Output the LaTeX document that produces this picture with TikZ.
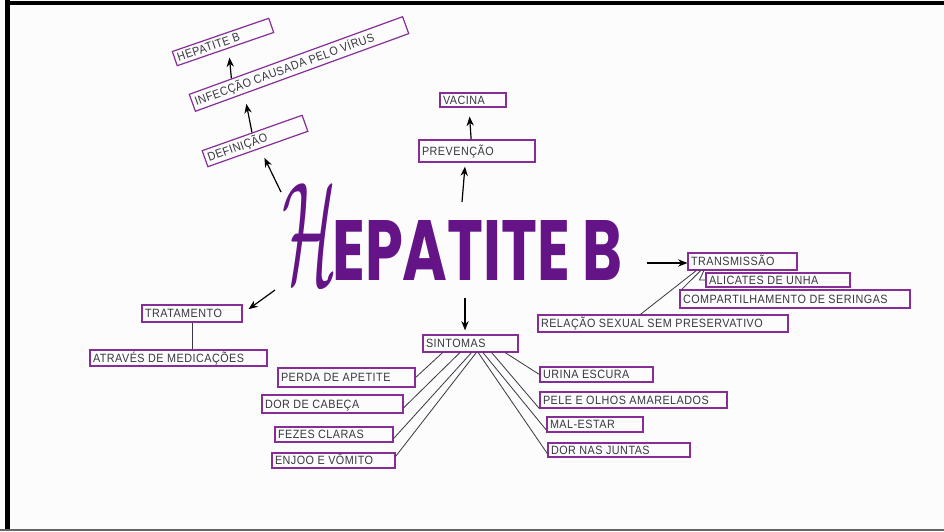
\documentclass[tikz,border=0pt]{standalone}
\usepackage{fontspec}
\usepackage{graphicx}
\usetikzlibrary{calc,arrows.meta}
\setmainfont{Liberation Sans}
\newfontfamily\titlefont{Poppins}
\newfontfamily\handfont[LetterSpace=4,FakeStretch=0.9]{Liberation Sans}
\definecolor{boxpurple}{RGB}{135,45,150}
\definecolor{titlepurple}{RGB}{100,20,135}
\definecolor{ink}{RGB}{55,55,65}
\definecolor{paper}{RGB}{252,252,252}
\newdimen\labelwd

\begin{document}
\begin{tikzpicture}[x=0.75pt,y=-0.75pt,
  bx/.style 2 args={draw=boxpurple, line width=0.9pt, inner ysep=0pt, inner xsep=2.25pt,
    text=ink, font=\handfont\fontsize{9}{10}\selectfont,
    text height=6.6pt, text depth=0.3pt,
    minimum width={#1*0.75pt}, minimum height={#2*0.75pt},
    execute at begin node={\pgfmathsetlength{\labelwd}{(#1-6)*0.75pt}\hbox to \labelwd\bgroup},
    execute at end node={\hfil\egroup}},
  arr/.style={-{Stealth[length=7pt,width=5.5pt]}, line width=0.9pt, black},
  link/.style={line width=0.6pt, ink},
]
% paper and frame
\fill[paper] (0,0) rectangle (944,531);
\useasboundingbox (0,0) rectangle (944,531);
\fill[black] (5,0) rectangle (10,531);
\fill[black] (5,1) rectangle (944,5);
\fill[black!60] (0,529) rectangle (944,531);

% central title
\node[anchor=south west, inner sep=0pt, text=titlepurple] (titleH) at (282,283)
  {\resizebox{41pt}{74pt}{$\mathcal{H}$}};
\node[anchor=south west, inner sep=0pt, text=titlepurple] (title) at (332,281)
  {\resizebox{218pt}{45pt}{\titlefont\bfseries EPATITE B}};

% definition branch (tilted)
\node[bx={106}{17}, rotate=19.5] (defin) at (255,141) {DEFINIÇÃO};
\node[bx={227}{18}, rotate=20] (infec) at (299,64) {INFECÇÃO CAUSADA PELO VÍRUS};
\node[bx={102}{15}, rotate=19] (hepsm) at (223,42) {HEPATITE B};

% prevention branch
\node[bx={66}{14}] (vacina) at (473,100) {VACINA};
\node[bx={116}{22}] (prev) at (477,151) {PREVENÇÃO};

% transmission branch
\node[bx={109}{17}] (transm) at (742.5,261.5) {TRANSMISSÃO};
\node[bx={144}{14}] (alic) at (778,280) {ALICATES DE UNHA};
\node[bx={230}{18}] (compart) at (795,299) {COMPARTILHAMENTO DE SERINGAS};
\node[bx={250}{17}] (relacao) at (663,323.5) {RELAÇÃO SEXUAL SEM PRESERVATIVO};

% treatment branch
\node[bx={100}{17}] (trat) at (192,313.5) {TRATAMENTO};
\node[bx={177}{16}] (atraves) at (178.5,358) {ATRAVÉS DE MEDICAÇÕES};

% symptoms branch
\node[bx={95}{17}] (sint) at (470.5,343.5) {SINTOMAS};
\node[bx={137}{19}] (perda) at (346.5,377.5) {PERDA DE APETITE};
\node[bx={141}{18}] (dor) at (332.5,404) {DOR DE CABEÇA};
\node[bx={118}{15}] (fezes) at (334,434.5) {FEZES CLARAS};
\node[bx={123}{15}] (enjoo) at (333.5,460.5) {ENJOO E VÔMITO};
\node[bx={113}{15}] (urina) at (596.5,374.5) {URINA ESCURA};
\node[bx={187}{16}] (pele) at (633.5,400) {PELE E OLHOS AMARELADOS};
\node[bx={96}{15}] (mal) at (595,424.5) {MAL-ESTAR};
\node[bx={142}{14}] (juntas) at (619,450) {DOR NAS JUNTAS};

% arrow starts next to the title
\coordinate (c-def) at (281,192);
\coordinate (c-prev) at (462,202);
\coordinate (c-tra) at (647,263);
\coordinate (c-trat) at (275,290);
\coordinate (c-sint) at (465,298);

% arrows
\draw[arr, shorten >=7.5pt] (c-def) -- ($(defin.south west)!0.52!(defin.south east)$);
\draw[arr, shorten >=7.5pt] (defin.north) -- ($(infec.south west)!0.23!(infec.south east)$);
\draw[arr, shorten >=6.75pt] ($(infec.north west)!0.2!(infec.north east)$) -- ($(hepsm.south west)!0.53!(hepsm.south east)$);
\draw[arr, shorten >=3pt] (c-prev) -- ($(prev.south west)!0.4!(prev.south east)$);
\draw[arr, shorten >=6.75pt] ($(prev.north west)!0.45!(prev.north east)$) -- ($(vacina.south west)!0.44!(vacina.south east)$);
\draw[arr] (c-tra) -- (c-tra -| transm.west);
\draw[arr, shorten >=5.5pt] (c-trat) -- (trat.east);
\draw[arr, shorten >=3pt] (c-sint) -- (c-sint |- sint.north);

% transmission links
\draw[link] ($(transm.south west)!0.08!(transm.south east)$) -- ($(relacao.north west)!0.41!(relacao.north east)$);
\draw[link] ($(transm.south west)!0.12!(transm.south east)$) -- ($(compart.north west)!0.01!(compart.north east)$);
\draw[link] ($(transm.south west)!0.15!(transm.south east)$) -- ($(alic.west)+(-6,0)$) -- (alic.west);

% treatment link
\draw[link] (trat.south) -- (trat.south |- atraves.north);

% symptom links
\draw[link] ($(sint.south west)!0.21!(sint.south east)$) -- (perda.east);
\draw[link] ($(sint.south west)!0.39!(sint.south east)$) -- ($(dor.north east)!0.7!(dor.south east)$);
\draw[link] ($(sint.south west)!0.51!(sint.south east)$) -- ($(fezes.north east)!0.75!(fezes.south east)$);
\draw[link] ($(sint.south west)!0.56!(sint.south east)$) -- ($(enjoo.north east)!0.25!(enjoo.south east)$);
\draw[link] ($(sint.south west)!0.86!(sint.south east)$) -- (urina.west);
\draw[link] ($(sint.south west)!0.72!(sint.south east)$) -- (pele.south west);
\draw[link] ($(sint.south west)!0.63!(sint.south east)$) -- ($(mal.north west)!0.85!(mal.south west)$);
\draw[link] ($(sint.south west)!0.58!(sint.south east)$) -- ($(juntas.north west)!0.74!(juntas.south west)$);
\end{tikzpicture}
\end{document}
